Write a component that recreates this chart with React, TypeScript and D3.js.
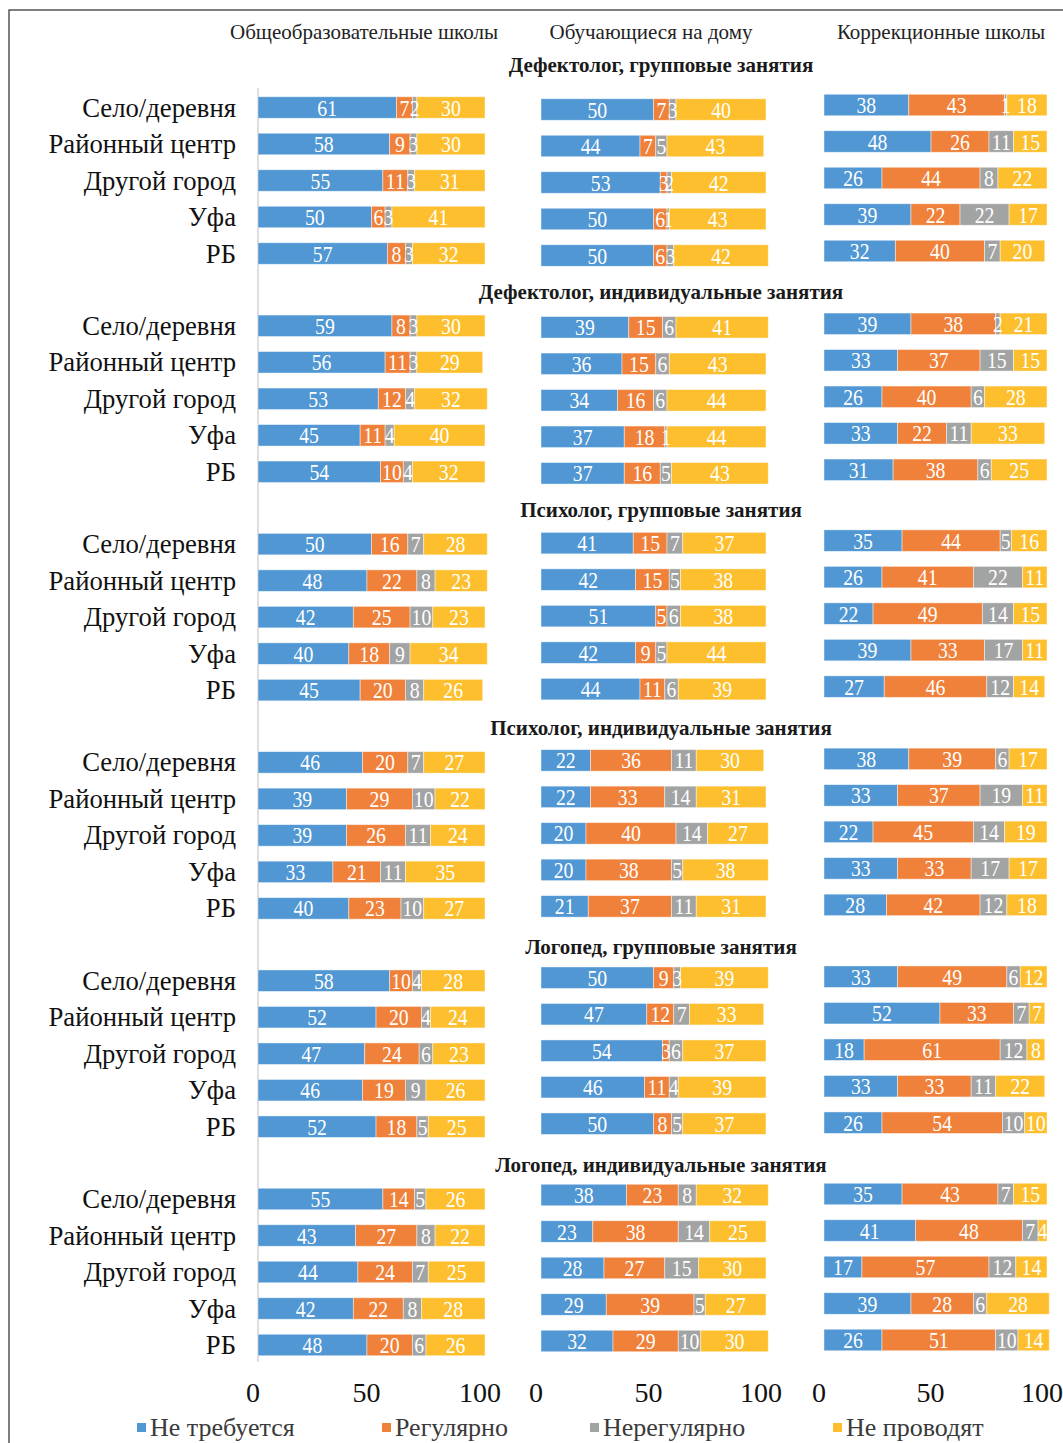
import { useEffect, useRef } from 'react';
import * as d3 from 'd3';

const columns = ['Общеобразовательные школы', 'Обучающиеся на дому', 'Коррекционные школы'];
const places = ['Село/деревня', 'Районный центр', 'Другой город', 'Уфа', 'РБ'];
const series = ['Не требуется', 'Регулярно', 'Нерегулярно', 'Не проводят'];
const colors = ['#5097d3', '#f0813a', '#a2a3a3', '#fdbf2d'];
const ticks = [0, 50, 100];
const sections = [
  'Дефектолог, групповые занятия',
  'Дефектолог, индивидуальные занятия',
  'Психолог, групповые занятия',
  'Психолог, индивидуальные занятия',
  'Логопед, групповые занятия',
  'Логопед, индивидуальные занятия',
];

// each section: [общеобразовательные, на дому, коррекционные], rows follow `places`
const defectGroup = [
  [[61, 7, 2, 30], [58, 9, 3, 30], [55, 11, 3, 31], [50, 6, 3, 41], [57, 8, 3, 32]],
  [[50, 7, 3, 40], [44, 7, 5, 43], [53, 3, 2, 42], [50, 6, 1, 43], [50, 6, 3, 42]],
  [[38, 43, 1, 18], [48, 26, 11, 15], [26, 44, 8, 22], [39, 22, 22, 17], [32, 40, 7, 20]],
];
const defectIndividual = [
  [[59, 8, 3, 30], [56, 11, 3, 29], [53, 12, 4, 32], [45, 11, 4, 40], [54, 10, 4, 32]],
  [[39, 15, 6, 41], [36, 15, 6, 43], [34, 16, 6, 44], [37, 18, 1, 44], [37, 16, 5, 43]],
  [[39, 38, 2, 21], [33, 37, 15, 15], [26, 40, 6, 28], [33, 22, 11, 33], [31, 38, 6, 25]],
];
const psychGroup = [
  [[50, 16, 7, 28], [48, 22, 8, 23], [42, 25, 10, 23], [40, 18, 9, 34], [45, 20, 8, 26]],
  [[41, 15, 7, 37], [42, 15, 5, 38], [51, 5, 6, 38], [42, 9, 5, 44], [44, 11, 6, 39]],
  [[35, 44, 5, 16], [26, 41, 22, 11], [22, 49, 14, 15], [39, 33, 17, 11], [27, 46, 12, 14]],
];
const psychIndividual = [
  [[46, 20, 7, 27], [39, 29, 10, 22], [39, 26, 11, 24], [33, 21, 11, 35], [40, 23, 10, 27]],
  [[22, 36, 11, 30], [22, 33, 14, 31], [20, 40, 14, 27], [20, 38, 5, 38], [21, 37, 11, 31]],
  [[38, 39, 6, 17], [33, 37, 19, 11], [22, 45, 14, 19], [33, 33, 17, 17], [28, 42, 12, 18]],
];
const speechGroup = [
  [[58, 10, 4, 28], [52, 20, 4, 24], [47, 24, 6, 23], [46, 19, 9, 26], [52, 18, 5, 25]],
  [[50, 9, 3, 39], [47, 12, 7, 33], [54, 3, 6, 37], [46, 11, 4, 39], [50, 8, 5, 37]],
  [[33, 49, 6, 12], [52, 33, 7, 7], [18, 61, 12, 8], [33, 33, 11, 22], [26, 54, 10, 10]],
];
const speechIndividual = [
  [[55, 14, 5, 26], [43, 27, 8, 22], [44, 24, 7, 25], [42, 22, 8, 28], [48, 20, 6, 26]],
  [[38, 23, 8, 32], [23, 38, 14, 25], [28, 27, 15, 30], [29, 39, 5, 27], [32, 29, 10, 30]],
  [[35, 43, 7, 15], [41, 48, 7, 4], [17, 57, 12, 14], [39, 28, 6, 28], [26, 51, 10, 14]],
];

const sectionData = [defectGroup, defectIndividual, psychGroup, psychIndividual, speechGroup, speechIndividual];

const W = 1063;
const H = 1443;
const FONT = '"Liberation Serif", "Times New Roman", serif';

const App = () => {
  const svgRef = useRef<SVGSVGElement>(null);

  useEffect(() => {
    if (!svgRef.current) return;
    const svg = d3.select(svgRef.current);
    svg.selectAll('*').remove();

    svg.append('rect').attr('width', W).attr('height', H).attr('fill', '#fff');

    // outer frame (cut off on the right/bottom like the scan)
    svg.append('rect')
      .attr('x', 9).attr('y', 10)
      .attr('width', 1100).attr('height', 1500)
      .attr('fill', 'none')
      .attr('stroke', '#3a3a3a')
      .attr('stroke-width', 1.3);

    // one x scale per panel column
    const xRanges: [number, number][] = [[258, 485], [541, 766], [824, 1047]];
    const xScales = xRanges.map(r => d3.scaleLinear().domain([0, 100]).range(r));

    const sectionY = d3.scalePoint<string>().domain(sections).range([107.5, 1199]);
    const rowY = d3.scalePoint<string>().domain(places).range([0, 146]);
    // panels were pasted slightly out of line
    const colShift = [
      [0, 0, 0, 0, 0, 0],
      [2, 1.5, -1, -2, -3, -4],
      [-2.5, -2, -3.5, -3.5, -4, -5],
    ];
    const barH = 21.5;

    // column headers
    const headerX = [364, 651, 941];
    svg.selectAll('.col-title')
      .data(columns)
      .enter()
      .append('text')
      .attr('class', 'col-title')
      .attr('x', (_d, i) => headerX[i])
      .attr('y', 39)
      .attr('text-anchor', 'middle')
      .style('font-family', FONT)
      .style('font-size', '21px')
      .style('fill', '#222')
      .text(d => d);

    // left axis line
    svg.append('line')
      .attr('x1', xScales[0](0)).attr('x2', xScales[0](0))
      .attr('y1', 88).attr('y2', 1362)
      .attr('stroke', '#d6d6d6')
      .attr('stroke-width', 1.6);

    const stack = d3.stack<number[], number>()
      .keys(d3.range(series.length))
      .value((d, k) => d[k]);

    sections.forEach((section, si) => {
      const sy = sectionY(section) as number;

      svg.append('text')
        .attr('x', 661)
        .attr('y', sy - (si === 0 ? 36 : 27))
        .attr('text-anchor', 'middle')
        .style('font-family', FONT)
        .style('font-size', '21px')
        .style('font-weight', 'bold')
        .style('fill', '#1a1a1a')
        .text(section);

      // category labels
      svg.selectAll(`.row-label-${si}`)
        .data(places)
        .enter()
        .append('text')
        .attr('class', `row-label-${si}`)
        .attr('x', 236)
        .attr('y', d => sy + (rowY(d) as number) + 9)
        .attr('text-anchor', 'end')
        .style('font-family', FONT)
        .style('font-size', '26.7px')
        .style('fill', '#111')
        .text(d => d);

      sectionData[si].forEach((rows, ci) => {
        const x = xScales[ci];
        const yOf = (i: number) => sy + (rowY(places[i]) as number) + colShift[ci][si];
        const layers = stack(rows);
        const g = svg.append('g');

        layers.forEach((layer, k) => {
          g.selectAll(`.bar-${k}`)
            .data(layer)
            .enter()
            .append('rect')
            .attr('class', `bar-${k}`)
            .attr('x', d => x(d[0]))
            .attr('y', (_d, i) => yOf(i) - barH / 2)
            .attr('width', d => Math.max(0, x(d[1]) - x(d[0])))
            .attr('height', barH)
            .attr('fill', colors[k])
            .attr('stroke', 'rgba(255,255,255,0.55)')
            .attr('stroke-width', 0.8);
        });

        layers.forEach((layer, k) => {
          g.selectAll(`.lab-${k}`)
            .data(layer)
            .enter()
            .append('text')
            .attr('class', `lab-${k}`)
            .attr('transform', (d, i) =>
              `translate(${(x(d[0]) + x(d[1])) / 2},${yOf(i) + 8}) scale(0.84,1)`)
            .attr('text-anchor', 'middle')
            .style('font-family', FONT)
            .style('font-size', '23.5px')
            .style('fill', '#fff')
            .text(d => d[1] - d[0]);
        });
      });
    });

    // x axis tick labels
    xScales.forEach(x => {
      svg.selectAll(null)
        .data(ticks)
        .enter()
        .append('text')
        .attr('x', d => x(d) - 5)
        .attr('y', 1402)
        .attr('text-anchor', 'middle')
        .style('font-family', FONT)
        .style('font-size', '28px')
        .style('fill', '#111')
        .text(d => d);
    });

    // legend
    const legendX = [137, 382, 590, 833];
    series.forEach((name, i) => {
      svg.append('rect')
        .attr('x', legendX[i]).attr('y', 1423)
        .attr('width', 9).attr('height', 9)
        .attr('fill', colors[i]);
      svg.append('text')
        .attr('x', legendX[i] + 13)
        .attr('y', 1436)
        .style('font-family', FONT)
        .style('font-size', '26px')
        .style('fill', '#3a3a3a')
        .text(name);
    });
  }, []);

  return (
    <div style={{ position: 'absolute', left: 0, top: 0 }}>
      <svg ref={svgRef} width={W} height={H} style={{ display: 'block' }} />
    </div>
  );
};

export default App;
